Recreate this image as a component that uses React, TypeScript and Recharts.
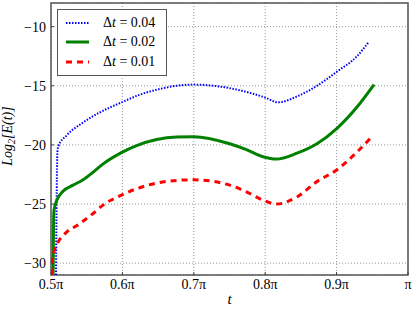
import React from 'react'
import { LineChart, Line, XAxis, YAxis, CartesianGrid, ReferenceArea } from 'recharts'

// t is given in units of pi
const blueT = [0.507, 0.5077, 0.5084, 0.509, 0.5103, 0.5219, 0.5451, 0.5685, 0.5989, 0.6245, 0.6524, 0.6758, 0.7, 0.7503, 0.8, 0.818, 0.8445, 0.8725, 0.9006, 0.9286, 0.945]
const blueE = [-31, -26, -22, -20.6, -20.1, -19.2, -18.1, -17.25, -16.4, -15.75, -15.27, -15.0, -14.9, -15.2, -16.0, -16.4, -15.9, -15.0, -13.8, -12.5, -11.3]

const greenT = [0.503, 0.5035, 0.5042, 0.508, 0.5172, 0.531, 0.545, 0.5592, 0.5731, 0.598, 0.62, 0.648, 0.676, 0.7, 0.7503, 0.7737, 0.797, 0.8157, 0.8445, 0.8725, 0.9006, 0.9286, 0.9524]
const greenE = [-31, -27, -25.55, -24.7, -23.9, -23.4, -22.95, -22.3, -21.6, -20.67, -20.06, -19.55, -19.33, -19.3, -19.9, -20.4, -21.0, -21.2, -20.7, -19.9, -18.6, -16.8, -14.9]

const redT = [0.5005, 0.5023, 0.5102, 0.5196, 0.5382, 0.5569, 0.5755, 0.598, 0.62, 0.648, 0.676, 0.7, 0.7503, 0.7737, 0.797, 0.8157, 0.8445, 0.8725, 0.9006, 0.9286, 0.951]
const redE = [-31, -29.5, -28.2, -27.5, -26.74, -25.9, -24.97, -24.27, -23.7, -23.23, -23.0, -22.95, -23.4, -23.97, -24.67, -25.0, -24.4, -23.1, -22.1, -20.6, -19.2]

const xTicks = [0.5, 0.6, 0.7, 0.8, 0.9, 1.0]
const xTickLabels = ['0.5π', '0.6π', '0.7π', '0.8π', '0.9π', 'π']
const yTicks = [-30, -25, -20, -15, -10]
const dtLabels = ['0.04', '0.02', '0.01']

const FONT = '"Liberation Serif", serif'

const toPoints = (ts: number[], es: number[]) => ts.map((t, i) => ({ t, e: es[i] }))

const series = [
  { name: dtLabels[0], data: toPoints(blueT, blueE), color: '#0000ff', width: 2, dash: '1.5 1.5' },
  { name: dtLabels[1], data: toPoints(greenT, greenE), color: '#008000', width: 3, dash: undefined },
  { name: dtLabels[2], data: toPoints(redT, redE), color: '#ff0000', width: 3, dash: '6 5' },
]

// legend drawn by hand, the built-in one reserves space beside the plot
function LegendBox() {
  return (
    <div
      style={{
        position: 'absolute',
        left: 57,
        top: 9,
        width: 110,
        height: 67,
        boxSizing: 'border-box',
        border: '1.5px solid #555',
        background: '#fff',
        padding: '3px 0 3px 8px',
        fontFamily: FONT,
        fontSize: 14,
        color: '#000',
      }}
    >
      {series.map((s) => (
        <div key={s.name} style={{ display: 'flex', alignItems: 'center', height: 19.5 }}>
          <svg width={23} height={10}>
            <line x1={0} x2={23} y1={5} y2={5} stroke={s.color} strokeWidth={s.width} strokeDasharray={s.dash} />
          </svg>
          <span style={{ marginLeft: 14, whiteSpace: 'nowrap' }}>
            Δ<i>t</i> = {s.name}
          </span>
        </div>
      ))}
    </div>
  )
}

function YLabel() {
  return (
    <text
      x={12}
      y={136}
      transform="rotate(-90, 12, 136)"
      textAnchor="middle"
      fontFamily={FONT}
      fontSize={14}
      fontStyle="italic"
      fill="#000"
    >
      Log<tspan fontSize={10} dy={3}>2</tspan>
      <tspan dy={-3}>[E(t)]</tspan>
    </text>
  )
}

export default function App() {
  return (
    <div style={{ position: 'absolute', left: 0, top: 0, width: 415, height: 312, background: '#fff' }}>
      <LineChart width={415} height={312} margin={{ top: 3, right: 7, left: 0, bottom: 0 }}>
        <CartesianGrid stroke="#999" strokeDasharray="1 2" />
        <XAxis
          dataKey="t"
          type="number"
          domain={[0.5, 1]}
          allowDataOverflow
          ticks={xTicks}
          tickFormatter={(v: number) => xTickLabels[xTicks.indexOf(v)] ?? ''}
          height={37}
          axisLine={false}
          tickLine={{ stroke: '#444' }}
          tickSize={-3}
          tickMargin={7}
          tick={{ fill: '#000', fontFamily: FONT, fontSize: 14 }}
          label={{ value: 't', position: 'insideBottom', offset: 8, fill: '#000', fontFamily: FONT, fontSize: 15, fontStyle: 'italic' }}
        />
        <YAxis
          type="number"
          domain={[-31, -8]}
          allowDataOverflow
          ticks={yTicks}
          tickFormatter={(v: number) => String(v).replace('-', '−')}
          width={51}
          axisLine={false}
          tickLine={{ stroke: '#444' }}
          tickSize={-3}
          tickMargin={8}
          tick={{ fill: '#000', fontFamily: FONT, fontSize: 14 }}
          label={{ content: () => <YLabel /> }}
        />
        <ReferenceArea x1={0.5} x2={1} y1={-31} y2={-8} fill="none" stroke="#555" strokeWidth={1.5} fillOpacity={0} />
        {series.map((s) => (
          <Line
            key={s.name}
            data={s.data}
            dataKey="e"
            type="monotone"
            stroke={s.color}
            strokeWidth={s.width}
            strokeDasharray={s.dash}
            dot={false}
            isAnimationActive={false}
          />
        ))}
      </LineChart>
      <LegendBox />
    </div>
  )
}
